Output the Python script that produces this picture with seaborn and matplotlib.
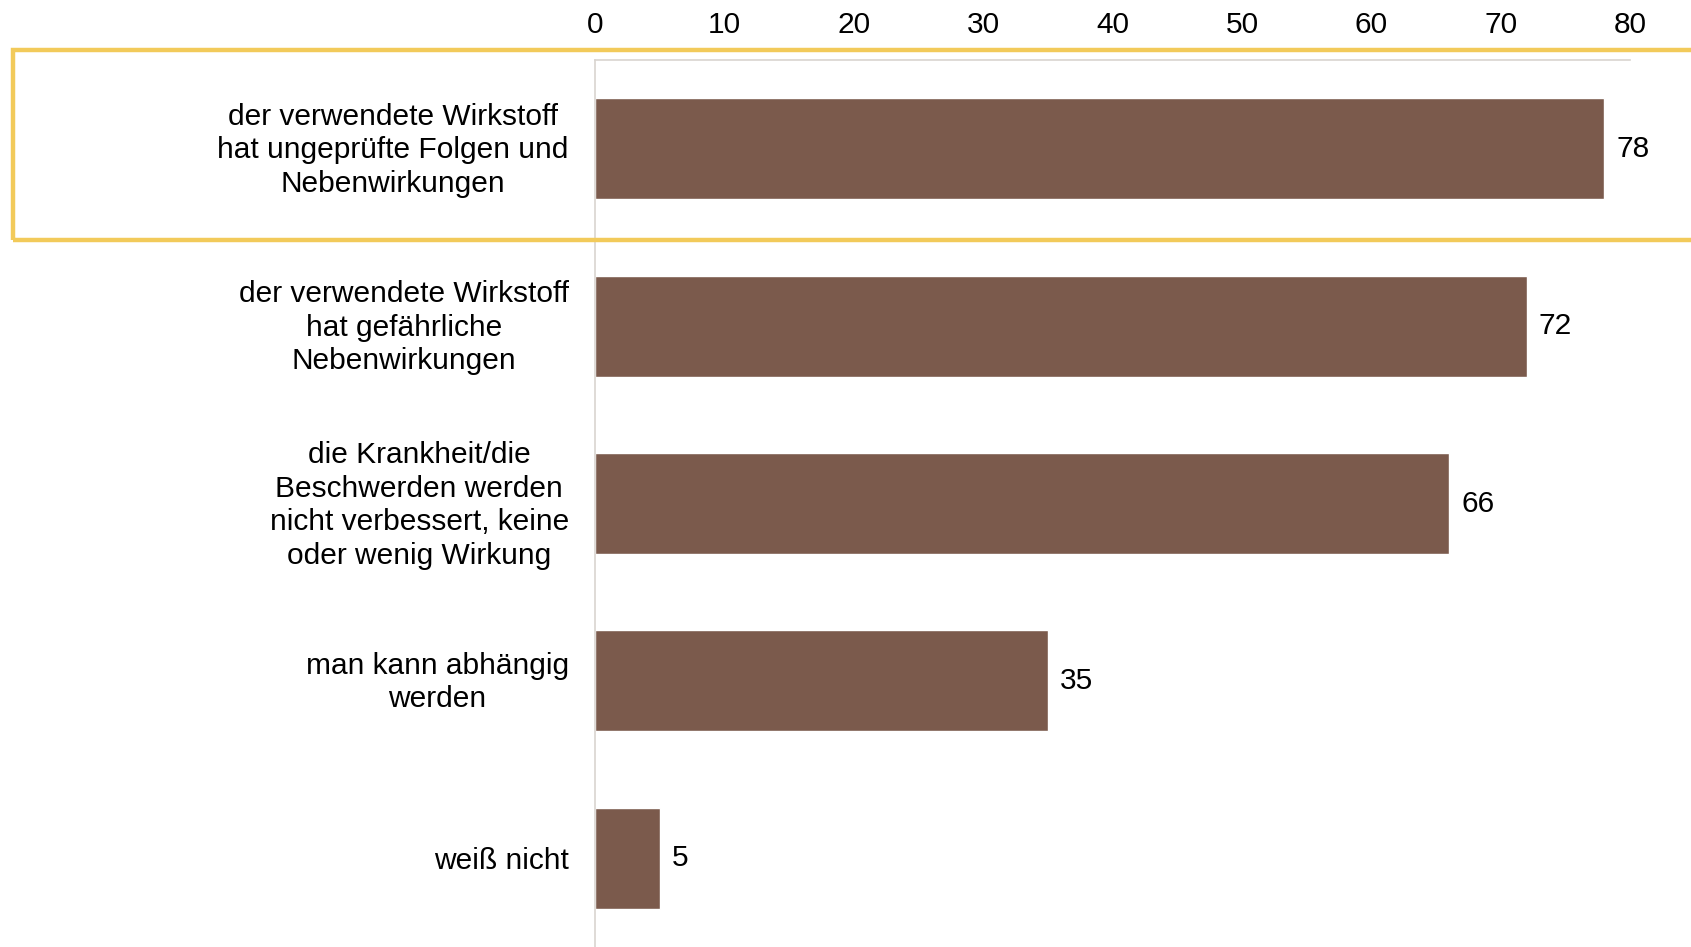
import matplotlib
matplotlib.use("Agg")
import matplotlib.pyplot as plt
from matplotlib.patches import Rectangle
from matplotlib.transforms import ScaledTranslation
import seaborn as sns
import pandas as pd

categories = [
    "der verwendete Wirkstoff\nhat ungeprüfte Folgen und\nNebenwirkungen",
    "der verwendete Wirkstoff\nhat gefährliche\nNebenwirkungen",
    "die Krankheit/die\nBeschwerden werden\nnicht verbessert, keine\noder wenig Wirkung",
    "man kann abhängig\nwerden",
    "weiß nicht",
]
values = [78, 72, 66, 35, 5]
x_ticks = [0, 10, 20, 30, 40, 50, 60, 70, 80]

bar_color = "#7B5A4C"
spine_color = "#D9D4CF"
frame_color = "#F2CA5A"

sns.set_theme(style="white")
plt.rcParams["font.family"] = ["Liberation Sans", "DejaVu Sans"]
plt.rcParams["text.color"] = "black"
plt.rcParams["xtick.color"] = "black"
plt.rcParams["ytick.color"] = "black"

df = pd.DataFrame({"label": categories, "value": values})

fig = plt.figure(figsize=(16.91, 9.47), dpi=100)
ax = fig.add_axes([0.352, 0.0, 0.964 - 0.352, 0.9366])

sns.barplot(data=df, y="label", x="value", orient="h", color=bar_color,
            width=0.57, saturation=1, ax=ax)

ax.set_xlim(0, 80)
ax.set_ylim(4.5, -0.5)
ax.xaxis.tick_top()
ax.set_xticks(x_ticks)
ax.set_xticklabels([str(t) for t in x_ticks], fontsize=21.5, color="black")
ax.tick_params(axis="x", length=0, pad=15.5)
ax.tick_params(axis="y", length=0, pad=19, labelsize=21.5, labelcolor="black")
# multi-line category labels sit slightly higher than their bar centre
lift = ScaledTranslation(0, 4 / 100, fig.dpi_scale_trans)
for lbl in ax.get_yticklabels():
    lbl.set_multialignment("center")
    lbl.set_linespacing(1.25)
    if "\n" in lbl.get_text():
        lbl.set_transform(lbl.get_transform() + lift)
ax.set_xlabel("")
ax.set_ylabel("")

for side in ["right", "bottom"]:
    ax.spines[side].set_visible(False)
for side in ["top", "left"]:
    ax.spines[side].set_color(spine_color)
    ax.spines[side].set_linewidth(1.2)

for i, v in enumerate(values):
    ax.text(v + 0.95, i, str(v), va="center", ha="left", fontsize=21.5, color="black")

# highlight frame around the first category
fig.patches.append(Rectangle((13 / 1691, 1 - 240 / 947), 1.0, (240 - 50) / 947,
                             transform=fig.transFigure, fill=False,
                             edgecolor=frame_color, linewidth=3.2, clip_on=False))

fig.savefig("out.png", dpi=100)
